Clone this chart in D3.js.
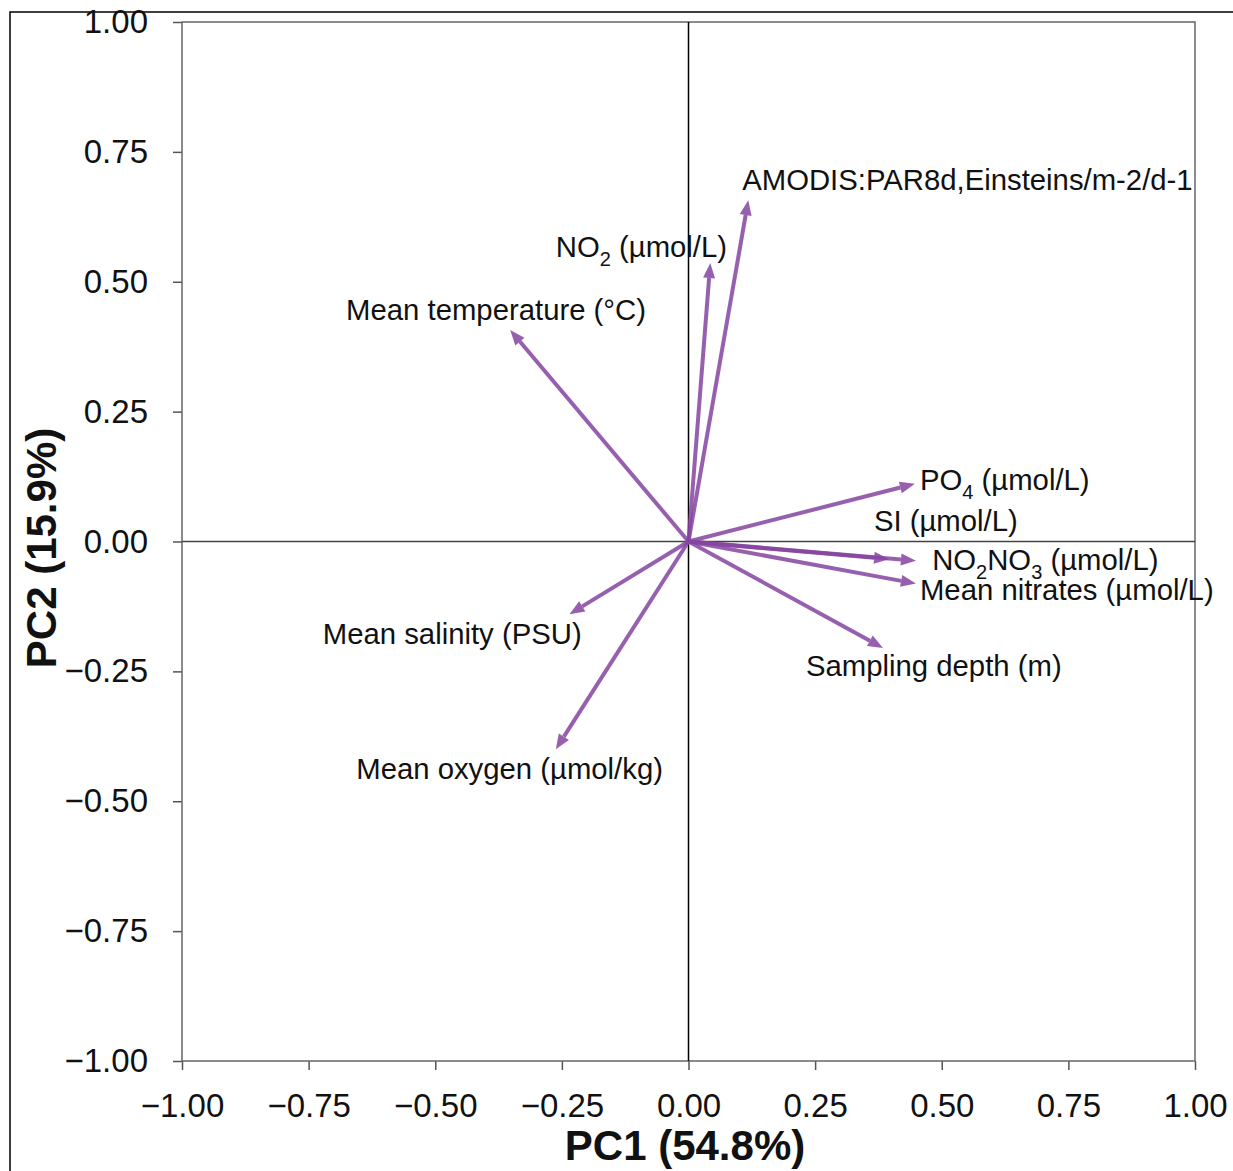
<!DOCTYPE html>
<html>
<head>
<meta charset="utf-8">
<script src="https://cdn.jsdelivr.net/npm/d3@7"></script>
<style>
  body { margin: 0; background: #fff; }
  text { font-family: "Liberation Sans", Arial, sans-serif; }
</style>
</head>
<body>
<div id="chart"></div>
<script>
// Loadings (arrow tips)
const variables = ["AMODIS", "NO2", "Temperature", "PO4", "SI", "NO2NO3", "Nitrates", "Depth", "Salinity", "Oxygen"];
const pc1 = [0.118, 0.043, -0.352, 0.447, 0.396, 0.449, 0.449, 0.384, -0.235, -0.262];
const pc2 = [0.657, 0.536, 0.407, 0.111, -0.034, -0.037, -0.081, -0.205, -0.140, -0.400];

// Label anchors (left edge, baseline) in PC units
const labelX = [0.106, -0.262, -0.676, 0.457, 0.366, 0.481, 0.457, 0.232, -0.722, -0.656];
const labelY = [0.677, 0.548, 0.426, 0.099, 0.020, -0.055, -0.113, -0.259, -0.197, -0.457];
// label text pieces: [text, isSubscript]
const labelParts = [
    [["AMODIS:PAR8d,Einsteins/m-2/d-1", false]],
    [["NO", false], ["2", true], [" (µmol/L)", false]],
    [["Mean temperature (°C)", false]],
    [["PO", false], ["4", true], [" (µmol/L)", false]],
    [["SI (µmol/L)", false]],
    [["NO", false], ["2", true], ["NO", false], ["3", true], [" (µmol/L)", false]],
    [["Mean nitrates (µmol/L)", false]],
    [["Sampling depth (m)", false]],
    [["Mean salinity (PSU)", false]],
    [["Mean oxygen (µmol/kg)", false]]
];

const tickValues = [-1, -0.75, -0.5, -0.25, 0, 0.25, 0.5, 0.75, 1];
const xTitle = "PC1 (54.8%)";
const yTitle = "PC2 (15.9%)";

const W = 1233, H = 1171;
const margin = { top: 22, right: 38, bottom: 110, left: 182 };

const svg = d3.select("#chart").append("svg")
    .attr("width", W)
    .attr("height", H);

// outer frame (only top/left edges visible)
svg.append("rect")
    .attr("x", 10).attr("y", 12)
    .attr("width", W + 20).attr("height", H + 20)
    .attr("fill", "none")
    .attr("stroke", "#000")
    .attr("stroke-width", 1.5);

const x = d3.scaleLinear().domain([-1, 1]).range([margin.left, W - margin.right]);
const y = d3.scaleLinear().domain([-1, 1]).range([H - margin.bottom, margin.top]);

// axes
const fmt = d3.format(".2f");
const xAxis = svg.append("g")
    .attr("transform", `translate(0,${y(-1)})`)
    .call(d3.axisBottom(x).tickValues(tickValues).tickFormat(fmt).tickSize(9).tickPadding(24));
const yAxis = svg.append("g")
    .attr("transform", `translate(${x(-1)},0)`)
    .call(d3.axisLeft(y).tickValues(tickValues).tickFormat(fmt).tickSize(9).tickPadding(25));

[xAxis, yAxis].forEach(g => {
    g.select(".domain").remove();
    g.selectAll(".tick line").attr("stroke", "#555").attr("stroke-width", 1.5);
    g.selectAll(".tick text")
        .attr("fill", "#111")
        .style("font-size", "33px")
        .style("font-family", "'Liberation Sans', Arial, sans-serif");
});

// panel border
svg.append("rect")
    .attr("x", x(-1)).attr("y", y(1))
    .attr("width", x(1) - x(-1)).attr("height", y(-1) - y(1))
    .attr("fill", "none")
    .attr("stroke", "#666")
    .attr("stroke-width", 1.5);

// zero lines
svg.append("line")
    .attr("x1", x(-1)).attr("x2", x(1))
    .attr("y1", y(0)).attr("y2", y(0))
    .attr("stroke", "#444").attr("stroke-width", 1.5);
svg.append("line")
    .attr("x1", x(0)).attr("x2", x(0))
    .attr("y1", y(1)).attr("y2", y(-1))
    .attr("stroke", "#000").attr("stroke-width", 1.5);

// arrows
const arrowColor = "#8544a0";
const headLen = 15, headHalf = 6;
const arrows = svg.append("g");

variables.forEach((v, i) => {
    const x0 = x(0), y0 = y(0);
    const x1 = x(pc1[i]), y1 = y(pc2[i]);
    const dx = x1 - x0, dy = y1 - y0;
    const len = Math.sqrt(dx * dx + dy * dy);
    const ux = dx / len, uy = dy / len;
    const bx = x1 - ux * headLen, by = y1 - uy * headLen;

    arrows.append("line")
        .attr("x1", x0).attr("y1", y0)
        .attr("x2", bx).attr("y2", by)
        .attr("stroke", arrowColor)
        .attr("stroke-opacity", 0.85)
        .attr("stroke-width", 4);

    arrows.append("path")
        .attr("d", `M${x1},${y1}L${bx - uy * headHalf},${by + ux * headHalf}L${bx + uy * headHalf},${by - ux * headHalf}Z`)
        .attr("fill", arrowColor)
        .attr("fill-opacity", 0.85);
});

// labels
variables.forEach((v, i) => {
    const t = svg.append("text")
        .attr("x", x(labelX[i]))
        .attr("y", y(labelY[i]))
        .attr("fill", "#111")
        .style("font-size", "29.3px");
    let shifted = false;
    labelParts[i].forEach(([s, sub]) => {
        const ts = t.append("tspan").text(s);
        if (sub) {
            ts.attr("dy", 9).style("font-size", "20px");
            shifted = true;
        } else if (shifted) {
            ts.attr("dy", -9);
            shifted = false;
        }
    });
});

// axis titles
svg.append("text")
    .attr("x", 685)
    .attr("y", 1160)
    .attr("text-anchor", "middle")
    .attr("fill", "#111")
    .style("font-size", "42px")
    .style("font-weight", "bold")
    .text(xTitle);

svg.append("text")
    .attr("transform", `translate(56,548) rotate(-90)`)
    .attr("text-anchor", "middle")
    .attr("fill", "#111")
    .style("font-size", "42px")
    .style("font-weight", "bold")
    .text(yTitle);
</script>
</body>
</html>
